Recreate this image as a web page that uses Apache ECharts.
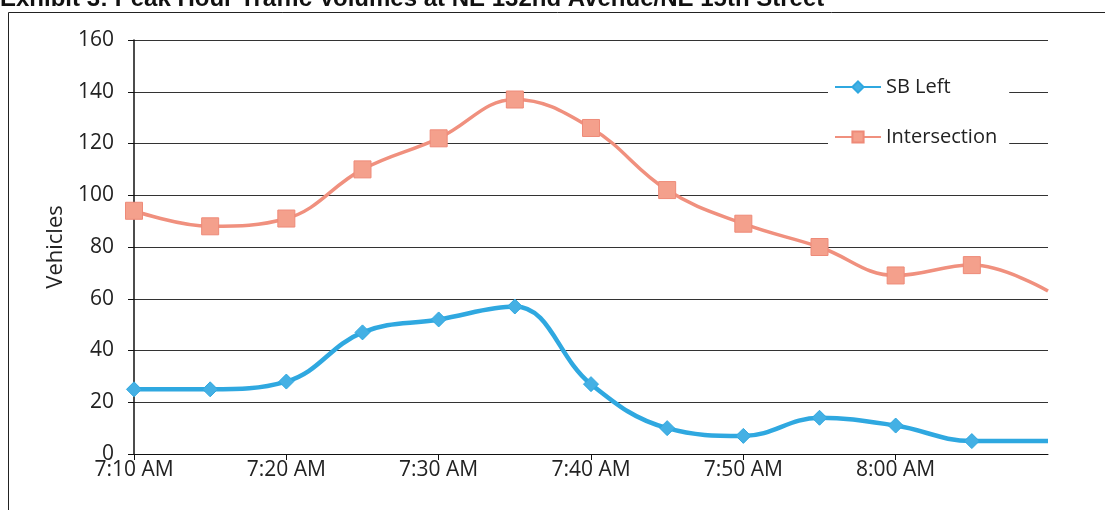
<!DOCTYPE html>
<html>
<head>
<meta charset="utf-8">
<script src="https://cdn.jsdelivr.net/npm/echarts@6/dist/echarts.min.js"></script>
<style>
html,body{margin:0;padding:0;background:#fff;}
#c{width:1105px;height:510px;}
</style>
</head>
<body>
<div id="c"></div>
<script>
const titleText = 'Exhibit 3: Peak Hour Traffic Volumes at NE 132nd Avenue/NE 15th Street';
const times = ['7:10 AM','7:15 AM','7:20 AM','7:25 AM','7:30 AM','7:35 AM','7:40 AM','7:45 AM','7:50 AM','7:55 AM','8:00 AM','8:05 AM','8:10 AM'];
const sbLeft = [25, 25, 28, 47, 52, 57, 27, 10, 7, 14, 11, 5, 5];
const intersection = [94, 88, 91, 110, 122, 137, 126, 102, 89, 80, 69, 73, 63];
const yTicks = [0, 20, 40, 60, 80, 100, 120, 140, 160];

const FONT = 'Open Sans';
const lastIdx = times.length - 1;
function build(vals){
  return vals.map((v,i)=> i===lastIdx ? {value:v, symbol:'none'} : v);
}
const showLabel = (i)=> i%2===0 && i<lastIdx;

const chart = echarts.init(document.getElementById('c'), null, {renderer:'canvas'});
chart.setOption({
  animation:false,
  backgroundColor:'#fff',
  graphic:[
    {type:'rect', shape:{x:8.5,y:12.5,width:1300,height:700}, style:{fill:'none', stroke:'#222', lineWidth:1}, z:-1},
    {type:'text', left:0, top:-13, style:{text:titleText, font:'bold 24px "Liberation Sans"', fill:'#111'}}
  ],
  grid:{left:134, right:57, top:40, bottom:56, containLabel:false},
  legend:{
    orient:'vertical', left:828, top:71,
    backgroundColor:'#fff', padding:[6,12,6,6],
    itemWidth:46, itemHeight:14, itemGap:30,
    textStyle:{fontFamily:FONT, fontSize:20, color:'#222'},
    data:['SB Left','Intersection']
  },
  xAxis:{
    type:'category', data:times, boundaryGap:false,
    axisLine:{lineStyle:{color:'#111', width:1}},
    axisTick:{show:true, interval:showLabel, length:6, lineStyle:{color:'#111'}},
    axisLabel:{interval:showLabel, fontFamily:FONT, fontSize:21, color:'#222', margin:6},
    splitLine:{show:false}
  },
  yAxis:{
    type:'value', min:yTicks[0], max:yTicks[yTicks.length-1], interval:yTicks[1]-yTicks[0],
    name:'Vehicles', nameLocation:'middle', nameGap:62, nameRotate:90,
    nameTextStyle:{fontFamily:FONT, fontSize:22, color:'#222'},
    axisLine:{show:true, lineStyle:{color:'#111', width:1.5}},
    axisTick:{show:true, length:6, lineStyle:{color:'#111'}},
    axisLabel:{fontFamily:FONT, fontSize:21, color:'#222', margin:20},
    splitLine:{show:true, lineStyle:{color:'#333', width:1}}
  },
  series:[
    {
      name:'SB Left', type:'line', data:build(sbLeft), smooth:0.4,
      symbol:'diamond', symbolSize:15,
      lineStyle:{color:'#2fa8e0', width:4.5},
      itemStyle:{color:'#44b0e4', borderColor:'#2fa8e0', borderWidth:1},
      z:3
    },
    {
      name:'Intersection', type:'line', data:build(intersection), smooth:0.4,
      symbol:'rect', symbolSize:17,
      lineStyle:{color:'#f0907e', width:3.5},
      itemStyle:{color:'#f4a08c', borderColor:'#ee8a78', borderWidth:1},
      z:2
    }
  ]
});
</script>
</body>
</html>
